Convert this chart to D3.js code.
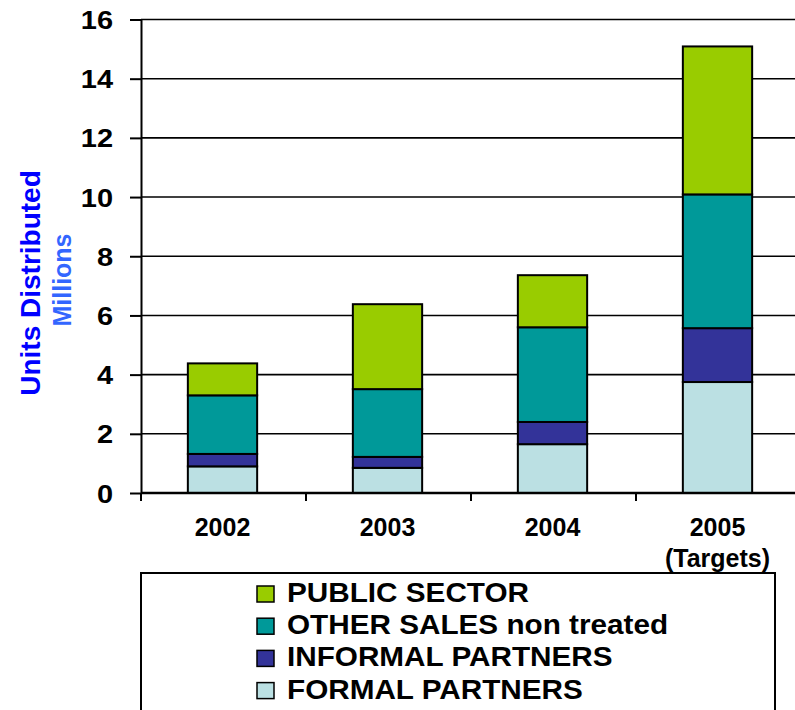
<!DOCTYPE html>
<html><head><meta charset="utf-8">
<script src="https://cdn.jsdelivr.net/npm/d3@7"></script>
<style>body{margin:0;background:#fff;} svg{display:block;font-family:"Liberation Sans",Arial,sans-serif;}</style>
</head><body>
<script>
const categories = ["2002","2003","2004","2005"];
const categoryNotes = ["","","","(Targets)"];
const formalPartners = [0.90, 0.85, 1.65, 3.75];
const informalPartners = [0.42, 0.37, 0.75, 1.82];
const otherSales = [1.98, 2.29, 3.20, 4.52];
const publicSector = [1.08, 2.87, 1.76, 5.00];
const seriesNames = ["FORMAL PARTNERS","INFORMAL PARTNERS","OTHER SALES non treated","PUBLIC SECTOR"];
const seriesColors = ["#BBE0E3","#333399","#009999","#99CC00"];
const yTicks = [0,2,4,6,8,10,12,14,16];

const W = 795, H = 710;
const svg = d3.select("body").append("svg").attr("width", W).attr("height", H);

const rows = categories.map((c,i)=>({cat:c, s0:formalPartners[i], s1:informalPartners[i], s2:otherSales[i], s3:publicSector[i]}));
const stack = d3.stack().keys(["s0","s1","s2","s3"])(rows);

const x = d3.scaleBand().domain(categories).range([141, 801]).padding(0);
const y = d3.scaleLinear().domain([0,16]).range([493, 19.5]);

// gridlines
svg.append("g").selectAll("line").data(yTicks.filter(t=>t>0)).join("line")
  .attr("x1", 141).attr("x2", 801).attr("y1", d=>y(d)).attr("y2", d=>y(d))
  .attr("stroke", "#000").attr("stroke-width", 1.6);

// bars
const bw = x.bandwidth()*0.42;
svg.append("g").selectAll("g").data(stack).join("g")
  .attr("fill", (d,i)=>seriesColors[i])
  .selectAll("rect").data(d=>d).join("rect")
  .attr("x", d=>x(d.data.cat)+x.bandwidth()/2-1-bw/2)
  .attr("width", bw)
  .attr("y", d=>y(d[1]))
  .attr("height", d=>y(d[0])-y(d[1]))
  .attr("stroke", "#000").attr("stroke-width", 2);

// y axis
const yAxis = svg.append("g").attr("transform","translate(141,0)")
  .call(d3.axisLeft(y).tickValues(yTicks).tickSize(11).tickPadding(17).tickSizeOuter(0));
yAxis.select(".domain").attr("stroke","#000").attr("stroke-width",2);
yAxis.selectAll(".tick line").attr("stroke","#000").attr("stroke-width",2);
yAxis.selectAll(".tick text")
  .attr("font-size", 25).attr("font-weight","bold").attr("fill","#000")
  .attr("font-family","'Liberation Sans',Arial,sans-serif")
  .attr("x", -28/1.16).attr("dy","0.36em")
  .attr("transform","scale(1.16,1)");

// x axis
svg.append("line").attr("x1",141).attr("x2",801).attr("y1",493).attr("y2",493)
  .attr("stroke","#000").attr("stroke-width",2.5);
svg.append("g").selectAll("line").data(categories).join("line")
  .attr("x1", d=>x(d)).attr("x2", d=>x(d)).attr("y1",493).attr("y2",501)
  .attr("stroke","#000").attr("stroke-width",2);
svg.append("g").selectAll("text").data(categories).join("text")
  .attr("x", d=>x(d)+x.bandwidth()/2-1).attr("y", 536)
  .attr("text-anchor","middle").attr("font-size",25).attr("font-weight","bold")
  .text(d=>d);
svg.append("g").selectAll("text").data(categories.filter((c,i)=>categoryNotes[i])).join("text")
  .attr("x", d=>x(d)+x.bandwidth()/2-1).attr("y", 567)
  .attr("text-anchor","middle").attr("font-size",25).attr("font-weight","bold")
  .text(d=>categoryNotes[categories.indexOf(d)]);

// y titles
svg.append("text").attr("transform","translate(40,283) rotate(-90)")
  .attr("text-anchor","middle").attr("font-size",28).attr("font-weight","bold")
  .attr("fill","#0000FF").text("Units Distributed");
svg.append("text").attr("transform","translate(71,280) rotate(-90)")
  .attr("text-anchor","middle").attr("font-size",25).attr("font-weight","bold")
  .attr("fill","#3366FF").text("Millions");

// legend
svg.append("rect").attr("x",141).attr("y",573).attr("width",634).attr("height",200)
  .attr("fill","#fff").attr("stroke","#000").attr("stroke-width",2);
const legOrder = [3,2,1,0];
const lg = svg.append("g").selectAll("g").data(legOrder).join("g")
  .attr("transform",(d,i)=>`translate(0,${602+i*32.2})`);
lg.append("rect").attr("x",257).attr("y",-16).attr("width",17).attr("height",16)
  .attr("fill",d=>seriesColors[d]).attr("stroke","#000").attr("stroke-width",1.5);
lg.append("text").attr("transform","translate(287,0) scale(1.1,1)")
  .attr("font-size",27).attr("font-weight","bold").attr("fill","#000")
  .text(d=>seriesNames[d]);
</script>
</body></html>
